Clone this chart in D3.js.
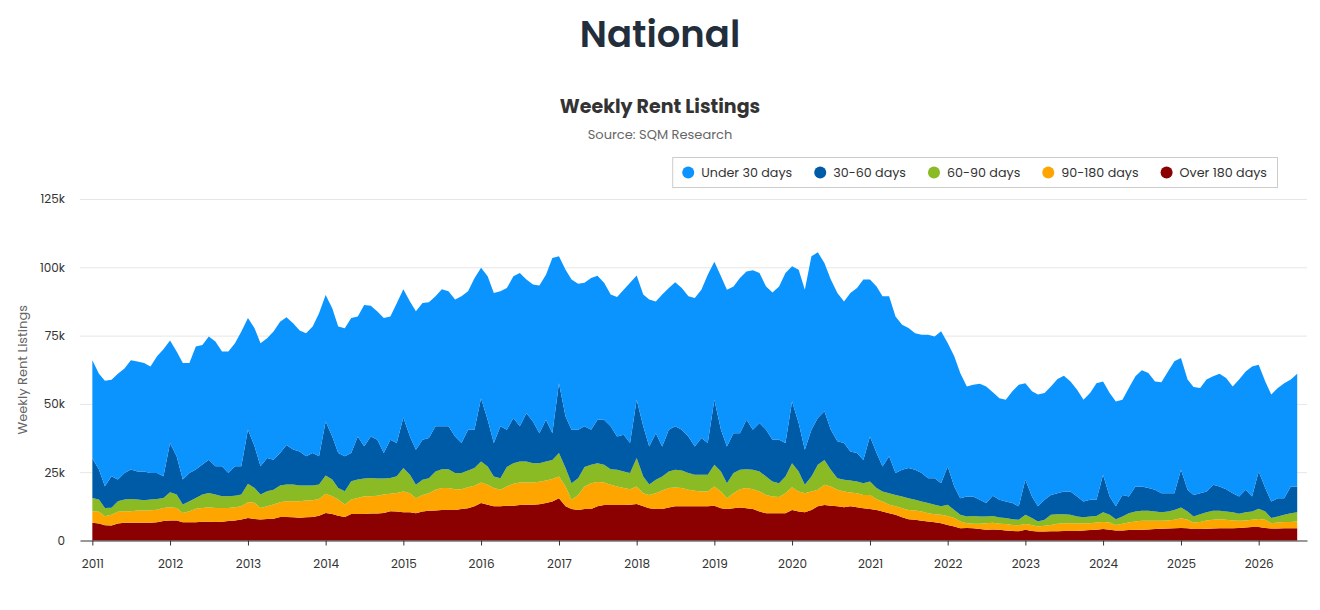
<!DOCTYPE html>
<html>
<head>
<meta charset="utf-8">
<title>National - Weekly Rent Listings</title>
<script src="https://cdn.jsdelivr.net/npm/d3@7"></script>
<style>
  body { margin: 0; background: #fff; font-family: Poppins, "Open Sans", sans-serif; }
  #graphic { width: 1320px; height: 610px; }
  .title { fill: #232e3c; font-size: 37px; font-weight: 600; }
  .subtitle { fill: #333; font-size: 19px; font-weight: 700; }
  .source { fill: #666; font-size: 13px; }
  .grid line { stroke: #e6e6e6; }
  .grid .domain { display: none; }
  .axis text { fill: #333; font-size: 12px; font-family: Poppins, "Open Sans", sans-serif; }
  .xaxis .domain, .xaxis line { stroke: #333; }
  .yaxis .domain { display: none; }
  .ytitle { fill: #666; font-size: 13px; }
  .legend text { fill: #333; font-size: 12.7px; }
</style>
</head>
<body>
<div id="graphic"></div>
<script>
// monthly readings, thousands of listings (Jan 2011 .. Jul 2026)
const months = d3.timeMonth.range(new Date(2011, 0, 1), new Date(2026, 7, 1));

const under30 = [
  36, 35, 38.6, 35.3, 38.7, 38.3, 40, 40.2, 39.7, 39, 42.7, 46.5,
  37.5, 38.4, 42.7, 40.3, 45, 43.8, 45.1, 45.6, 42, 44.5, 45, 49.3,
  40.8, 43.2, 45, 43.8, 46.9, 48.1, 46.7, 46.2, 44.3, 45.1, 46.3, 52.4,
  46.3, 46.9, 46.3, 46.9, 49.4, 43.9, 51.7, 47.8, 46.9, 49.4, 45.1, 51.1,
  47, 49.4, 50.7, 50, 49.7, 47.6, 50.2, 49.4, 50.1, 53.7, 50.7, 55.5,
  47.7, 52.5, 54.9, 49.4, 51.9, 51.9, 56.1, 48.9, 50.1, 54, 53.1, 64.1,
  46.4, 53.7, 55, 53.5, 52.5, 55.6, 52.7, 50.1, 48.2, 51, 53.1, 58.6,
  45.5, 48.2, 53.8, 48.2, 55.6, 51.9, 52.7, 51.9, 51.3, 54.4, 54.3, 61.6,
  50.5, 56.2, 57.4, 53.7, 56.8, 54.3, 58.4, 54.9, 52.5, 53.9, 56.1, 62.2,
  49.5, 56.1, 58.6, 63.5, 60.7, 54.3, 55, 54.3, 51.8, 58, 60.4, 66,
  57.4, 61, 62.3, 58.6, 57.3, 53.1, 51.3, 50, 50.6, 52.5, 51.9, 55.6,
  45.2, 47.6, 45.8, 40.3, 40.9, 42.5, 42.7, 37.9, 37.2, 37.2, 40.9, 44.5,
  35.4, 38.5, 40.9, 39.1, 39.7, 41.8, 42.4, 40.3, 39.1, 37.2, 39.1, 42.7,
  34.1, 37.9, 38.4, 34.8, 39.7, 40.3, 42.5, 42.1, 39.6, 40.6, 44.6, 48.3,
  40.9, 40.3, 39.5, 38.5, 41, 39.7, 41.2, 40.7, 39.1, 42.8, 43.3, 47.6,
  39, 39, 39.1, 40.3, 42.1, 39.1, 41.2
];

const days30to60 = [
  14.4, 11, 8, 11.5, 7.9, 9.7, 10.8, 10.3, 10.6, 9.7, 9.5, 7.9,
  18, 14, 9.1, 10.3, 10.4, 11, 12.2, 10.4, 11, 8.5, 10.8, 10.4,
  19.8, 15.3, 10.4, 12.2, 11, 11.9, 14.5, 12.8, 12.5, 10.7, 11.9, 10.3,
  19.8, 15.8, 12.8, 12.8, 10.3, 15.8, 11.8, 15.2, 14.2, 9.3, 14, 12.2,
  18.5, 14, 12.8, 14.7, 14.7, 16.5, 15.7, 15.7, 13.4, 11, 14.9, 14,
  23.2, 17.1, 12.3, 19, 13.6, 16.5, 12.9, 17.7, 15.3, 11, 15.3, 9.8,
  25.6, 18.9, 19.5, 17.7, 14.9, 12.8, 15.9, 16.5, 15.7, 12.2, 13.4, 11,
  21.3, 18.4, 13.9, 17.1, 11, 15.2, 15.9, 14.9, 13.4, 10.3, 13.4, 11.6,
  23.8, 15.2, 13.4, 14.6, 13.4, 18.1, 14.6, 17.7, 17.1, 15.3, 15.9, 12.3,
  22.6, 17.7, 12.8, 17.1, 17.1, 17.8, 14.6, 13.5, 13.5, 10.6, 10.4, 8.5,
  16.5, 12.8, 9.2, 13.5, 8, 9.8, 11, 11, 10.4, 9.1, 9.7, 8.5,
  14, 8.6, 6.1, 7.3, 7.1, 6.1, 4.9, 7.4, 6.5, 6.1, 5.9, 4.9,
  12.8, 7.9, 5.5, 7.3, 7.3, 7.7, 8.3, 8.5, 7.3, 5.8, 6.1, 5.9,
  13.8, 6.7, 4.7, 7.9, 6.1, 9.2, 8.9, 8.3, 8, 7, 6.7, 6.1,
  13.8, 8, 7.9, 7.7, 7.6, 9.5, 8.9, 8.2, 7, 6.3, 8.3, 5.5,
  13.7, 8.6, 6.1, 6.7, 6.1, 9.8, 9.5
];

const days60to90 = [
  4.9, 4.5, 3, 2.6, 3.9, 4.3, 4.5, 4, 3.7, 3.9, 3.9, 3.7,
  5.5, 4.9, 3.1, 3.7, 4, 4.9, 5.2, 4.9, 4.3, 4.3, 4.2, 4.3,
  6.8, 5.4, 4.9, 5.5, 5.4, 6.1, 6.1, 6.1, 5.7, 5.5, 5.4, 5.3,
  6.7, 6.1, 4.2, 4.8, 6.7, 6.7, 6.5, 6.7, 6.3, 5.9, 5.8, 6.1,
  8.6, 6.8, 4.9, 5.5, 5.5, 6.7, 6.9, 6.9, 5.9, 5.9, 6.1, 6.5,
  7.7, 6.7, 4.2, 4.2, 7.1, 7.5, 7.7, 7.7, 7.1, 6.8, 6.9, 7,
  8.6, 6.7, 6.1, 6.1, 7.1, 6.7, 6.9, 6.5, 5.7, 6.1, 6.1, 5.9,
  10.4, 6.1, 3.8, 4.9, 5.1, 6.1, 6.5, 6.4, 6.1, 5.9, 6.2, 6.2,
  7.9, 7.4, 5.5, 7.4, 7.1, 6.9, 7.1, 7.4, 6.7, 5.5, 5.1, 6.1,
  8.8, 7.4, 3.1, 5.5, 9.1, 9.1, 6.1, 4.2, 4.3, 4.4, 4.3, 4.3,
  4.9, 4.1, 3.6, 4.2, 4.2, 4.3, 4.3, 3.9, 3.7, 3.7, 3.5, 3.1,
  4.1, 3, 2.4, 2.5, 2.9, 2.7, 2.5, 2.5, 2.3, 2.2, 2.1, 2,
  3.4, 2.5, 1.9, 2.2, 3.7, 3.5, 3.3, 3.1, 2.5, 2.2, 2.5, 2.4,
  3.5, 2.8, 2.1, 2.7, 3.4, 3.6, 3.7, 3.7, 3.4, 3.1, 3.3, 3.6,
  4, 3, 2.2, 2.8, 3, 3.3, 3.1, 3, 3, 2.6, 3, 3,
  3.7, 3, 1.9, 2.2, 2.6, 3.2, 3.3
];

const days90to180 = [
  4.2, 4.3, 3.3, 3.9, 4.3, 4.2, 4.2, 4.5, 4.5, 4.6, 4.6, 4.8,
  4.9, 4.6, 3.4, 4, 4.9, 5, 5.3, 5.1, 5, 4.8, 4.9, 4.8,
  5.8, 5.9, 4.2, 4.6, 5.2, 5.4, 5.8, 5.9, 6.1, 6.1, 6.1, 6.1,
  7, 6.5, 5.9, 4.6, 5.3, 5.9, 6.5, 6.3, 6.5, 6.7, 6.4, 6.8,
  7.6, 7, 5.5, 6.1, 6.4, 7.6, 8, 8, 7.6, 7.3, 7.7, 7.5,
  7.5, 7.3, 6.7, 6.1, 7.1, 8.1, 8.2, 8.1, 8.1, 8.2, 8.3, 8.2,
  7.9, 7.3, 3.4, 5.5, 8.3, 9.5, 8.9, 8.2, 7.4, 6.8, 6.2, 5.7,
  6.4, 4.8, 4.9, 5.8, 6.8, 7.1, 6.9, 6.7, 6.1, 5.7, 5.4, 5.4,
  7.1, 6.1, 4, 5.5, 6.7, 7.4, 7.3, 7.3, 6.7, 6.1, 5.9, 7.3,
  8.3, 7.3, 7, 6.7, 6.1, 7.4, 7.1, 6.1, 5.7, 5.1, 5.1, 4.9,
  5.2, 3.9, 3.7, 3.1, 3.1, 3.3, 3.4, 3.4, 3.4, 3, 2.9, 3.1,
  3.3, 3.1, 2.5, 1.7, 1.6, 1.9, 2.4, 2.5, 2.2, 2.3, 2.2, 2.2,
  2.1, 2.2, 1.8, 2.1, 2.3, 2.7, 2.8, 2.8, 2.8, 2.6, 2.5, 2.7,
  2.6, 2.7, 2, 2.4, 2.8, 3.1, 3.3, 3.2, 3, 2.9, 2.9, 3.1,
  3.5, 3.1, 2.4, 2.6, 3, 3.2, 3.3, 3.1, 2.8, 2.6, 2.5, 2.7,
  3, 3, 1.9, 2.2, 2.3, 2.3, 2.5
];

const over180 = [
  6.5, 6.2, 5.6, 5.5, 6.2, 6.5, 6.5, 6.5, 6.5, 6.5, 6.7, 7.1,
  7.3, 7.3, 6.7, 6.7, 6.7, 6.9, 6.9, 6.8, 6.9, 7.1, 7.3, 7.7,
  8.2, 7.9, 7.7, 7.9, 8, 8.6, 8.6, 8.5, 8.3, 8.5, 8.6, 9.1,
  10.1, 9.7, 9.1, 8.6, 9.7, 9.7, 9.7, 9.9, 9.9, 10.1, 10.7, 10.6,
  10.3, 10.3, 10, 10.6, 10.9, 11, 11.2, 11.2, 11.2, 11.5, 11.8, 12.5,
  13.7, 13.1, 12.5, 12.5, 12.7, 12.7, 13, 13.1, 13.1, 13.3, 13.7, 14.3,
  15.5, 12.5, 11.5, 11.2, 11.5, 11.5, 12.5, 13, 13, 13, 13, 13.1,
  13.4, 12.5, 11.8, 11.5, 11.5, 12.1, 12.5, 12.5, 12.5, 12.5, 12.5, 12.5,
  12.7, 11.8, 11.5, 11.8, 12.1, 11.8, 11.5, 10.6, 10, 10, 10, 10,
  11.2, 10.6, 10.3, 11.2, 12.5, 13, 12.7, 12.5, 12.2, 12.5, 12.2, 11.8,
  11.5, 11.2, 10.6, 10, 9.4, 8.5, 7.8, 7.6, 7.2, 7, 6.7, 6.3,
  5.7, 5.1, 4.5, 4.6, 4.5, 4.2, 3.9, 4, 3.9, 3.7, 3.5, 3.4,
  3.9, 3.5, 3.3, 3.3, 3.4, 3.4, 3.5, 3.5, 3.5, 3.7, 3.8, 3.9,
  4.2, 3.9, 3.7, 3.7, 3.8, 3.9, 3.9, 4, 4.2, 4.3, 4.4, 4.5,
  4.6, 4.5, 4.2, 4.2, 4.3, 4.4, 4.5, 4.5, 4.5, 4.6, 4.8, 4.9,
  4.9, 4.6, 4.4, 4.4, 4.5, 4.5, 4.5
];

const seriesKeys = ["under30", "days30to60", "days60to90", "days90to180", "over180"];
const seriesNames = ["Under 30 days", "30-60 days", "60-90 days", "90-180 days", "Over 180 days"];
const seriesColors = ["#0b94fe", "#005ba7", "#8bbb24", "#ffa500", "#8b0000"];
const yTicks = [0, 25, 50, 75, 100, 125];
const xTickYears = d3.range(2011, 2027);

const table = months.map(function(m, i) {
  return {
    date: m,
    under30: under30[i],
    days30to60: days30to60[i],
    days60to90: days60to90[i],
    days90to180: days90to180[i],
    over180: over180[i]
  };
});

const rentChart = {
  create(opts){
    const instance = Object.create(this);
    Object.keys(opts).forEach(function(key){
      instance[key] = opts[key];
    });
    return instance;
  },
  margin: { left: 80, right: 13, top: 199, bottom: 69.5 },
  el: "#graphic",
  outerWidth: 1320,
  outerHeight: 610,
  parameters(){
    this.width = this.outerWidth - this.margin.left - this.margin.right;
    this.height = this.outerHeight - this.margin.top - this.margin.bottom;
  },
  createScales(){
    // plot spans a little before Jan 2011 and past the last week
    this.xScale = d3.scaleTime()
      .domain([new Date(2010, 10, 4), new Date(2026, 7, 16)])
      .range([0, this.width]);

    this.yScale = d3.scaleLinear()
      .domain([0, 125])
      .range([this.height, 0]);

    this.color = d3.scaleOrdinal()
      .domain(seriesKeys)
      .range(seriesColors);
  },
  drawPlot(){
    document.querySelector(this.el).innerHTML = "";
    this.svg = d3.select(this.el)
      .append("svg")
      .attr("width", this.outerWidth)
      .attr("height", this.outerHeight);

    this.svg.append("text")
      .attr("class", "title")
      .attr("x", this.outerWidth / 2)
      .attr("y", 47)
      .attr("text-anchor", "middle")
      .text("National");

    this.svg.append("text")
      .attr("class", "subtitle")
      .attr("x", this.outerWidth / 2)
      .attr("y", 113)
      .attr("text-anchor", "middle")
      .text("Weekly Rent Listings");

    this.svg.append("text")
      .attr("class", "source")
      .attr("x", this.outerWidth / 2)
      .attr("y", 139)
      .attr("text-anchor", "middle")
      .text("Source: SQM Research");

    this.plot = this.svg
      .append("g")
      .attr("transform", `translate(${this.margin.left}, ${this.margin.top})`);
  },
  drawGrid(){
    this.yGrid = d3.axisLeft()
      .scale(this.yScale)
      .tickValues(yTicks.slice(1))
      .tickSize(-this.width)
      .tickFormat("");

    this.plot.append("g")
      .attr("class", "grid")
      .call(this.yGrid);
  },
  drawData(){
    const that = this;
    // bottom of the stack first
    const stackOrder = seriesKeys.slice().reverse();
    const stacked = d3.stack().keys(stackOrder)(table);

    const area = d3.area()
      .x(function(d){ return that.xScale(d.data.date); })
      .y0(function(d){ return that.yScale(d[0]); })
      .y1(function(d){ return that.yScale(d[1]); });

    this.plot.append("g")
      .attr("class", "stacks")
      .selectAll("path")
      .data(stacked)
      .enter()
      .append("path")
      .attr("fill", function(d){ return that.color(d.key); })
      .attr("d", area);
  },
  drawAxes(){
    this.xAxis = d3.axisBottom()
      .scale(this.xScale)
      .tickValues(xTickYears.map(function(y){ return new Date(y, 0, 1); }))
      .tickFormat(d3.timeFormat("%Y"))
      .tickSize(5)
      .tickSizeOuter(0)
      .tickPadding(14);

    this.yAxis = d3.axisLeft()
      .scale(this.yScale)
      .tickValues(yTicks)
      .tickSize(0)
      .tickPadding(15)
      .tickFormat(function(d){ return d === 0 ? "0" : d + "k"; });

    this.plot.append("g")
      .attr("class", "axis xaxis")
      .attr("transform", `translate(0, ${this.height})`)
      .call(this.xAxis);

    this.plot.append("g")
      .attr("class", "axis yaxis")
      .call(this.yAxis);

    this.svg.append("text")
      .attr("class", "ytitle")
      .attr("transform", `translate(27, ${this.margin.top + this.height / 2}) rotate(-90)`)
      .attr("text-anchor", "middle")
      .text("Weekly Rent Listings");
  },
  drawLegend(){
    const that = this;
    const legend = this.svg.append("g").attr("class", "legend");
    const box = legend.append("rect")
      .attr("fill", "#fff")
      .attr("stroke", "#ccc");
    const items = legend.append("g");

    let cursor = 0;
    seriesKeys.forEach(function(key, i){
      const item = items.append("g").attr("transform", `translate(${cursor}, 0)`);
      item.append("circle")
        .attr("cx", 6)
        .attr("cy", 0)
        .attr("r", 6)
        .attr("fill", that.color(key));
      const label = item.append("text")
        .attr("x", 19)
        .attr("y", 0)
        .attr("dy", "0.35em")
        .text(seriesNames[i]);
      cursor += 19 + label.node().getComputedTextLength() + 22;
    });

    const itemsWidth = cursor - 22;
    const boxRight = 1277;
    const boxWidth = itemsWidth + 20;
    const boxLeft = boxRight - boxWidth;
    box.attr("x", boxLeft + 0.5)
      .attr("y", 157.5)
      .attr("width", boxWidth)
      .attr("height", 30);
    items.attr("transform", `translate(${boxLeft + 10}, 172.5)`);
  },
  draw(){
    this.parameters();
    this.createScales();
    this.drawPlot();
    this.drawGrid();
    this.drawData();
    this.drawAxes();
    this.drawLegend();
  }
};

rentChart.create({}).draw();
</script>
</body>
</html>
